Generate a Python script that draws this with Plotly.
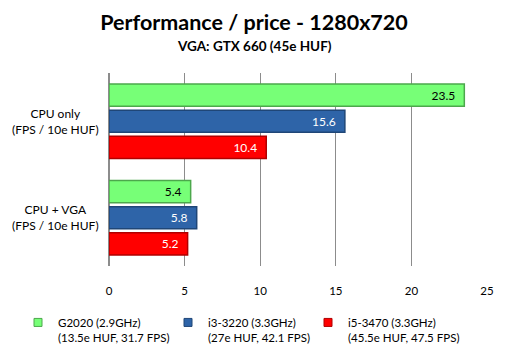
import plotly.graph_objects as go

categories = ["CPU only<br>(FPS / 10e HUF)", "CPU + VGA<br>(FPS / 10e HUF)"]
series_names = [
    "G2020 (2.9GHz)<br>(13.5e HUF, 31.7 FPS)",
    "i3-3220 (3.3GHz)<br>(27e HUF, 42.1 FPS)",
    "i5-3470 (3.3GHz)<br>(45.5e HUF, 47.5 FPS)",
]
g2020 = [23.5, 5.4]
i3_3220 = [15.6, 5.8]
i5_3470 = [10.4, 5.2]
tick_vals = [0, 5, 10, 15, 20, 25]

FONT = "Lato"
fills = ["#77FF77", "#2E64A8", "#FF0000"]
edges = ["#4CA84C", "#1F4677", "#B00000"]
text_colors = ["#000000", "#FFFFFF", "#FFFFFF"]

W, H = 508, 355
ML, MR, MT, MB = 109, 21, 73, 89
PW, PH = W - ML - MR, H - MT - MB

legend_ids = ["legend", "legend2", "legend3"]
legend_text_x = [58, 208, 348]   # pixel where each legend text starts

fig = go.Figure()
for name, vals, fc, ec, tc in zip(series_names, [g2020, i3_3220, i5_3470], fills, edges, text_colors):
    fig.add_trace(go.Bar(
        y=categories, x=vals, name=name, orientation="h", showlegend=False,
        marker=dict(color=fc, line=dict(color=ec, width=1.5)),
        text=[f"{v:.1f}\u00a0\u00a0" for v in vals], textposition="inside",
        insidetextanchor="end", textangle=0,
        textfont=dict(family=FONT, size=12, color=tc),
    ))
# legend entries with small square swatches, each in its own legend box
for name, fc, ec, lid in zip(series_names, fills, edges, legend_ids):
    fig.add_trace(go.Scatter(
        x=[None], y=[None], mode="markers", name=name, legend=lid,
        marker=dict(symbol="square", size=8, color=fc, line=dict(color=ec, width=1)),
    ))

annotations = [dict(
    text="<b>VGA: GTX 660 (45e HUF)</b>", x=(254 - ML) / PW, xref="paper", xanchor="center",
    y=1 + (MT - 46) / PH, yref="paper", yanchor="middle", showarrow=False,
    font=dict(family=FONT, size=13.5, color="black"),
)]
for c in categories:
    annotations.append(dict(
        text=c, x=(55 - ML) / PW, xref="paper", xanchor="center", align="center",
        y=c, yref="y", yanchor="middle", showarrow=False,
        font=dict(family=FONT, size=12, color="black"),
    ))

legends = {}
for lid, tx in zip(legend_ids, legend_text_x):
    legends[lid] = dict(
        orientation="h", x=(tx - 40 - ML) / PW, xanchor="left", y=-0.22, yanchor="top",
        font=dict(family=FONT, size=11.5, color="black"),
        valign="top", bgcolor="rgba(0,0,0,0)",
    )

fig.update_layout(
    width=W, height=H,
    paper_bgcolor="white", plot_bgcolor="white",
    margin=dict(l=ML, r=MR, t=MT, b=MB, autoexpand=False),
    barmode="group", bargap=0.19, bargroupgap=0.15,
    showlegend=True,
    title=dict(
        text="<b>Performance / price - 1280x720</b>",
        x=254 / W, xanchor="center", xref="container", y=1 - 22 / H, yanchor="middle", yref="container",
        font=dict(family=FONT, size=21.5, color="black"),
    ),
    annotations=annotations,
    xaxis=dict(
        range=[0, 25], tickvals=tick_vals, showgrid=True, automargin=False,
        gridcolor="#8C8C8C", gridwidth=1, zeroline=True, zerolinecolor="#8C8C8C",
        showline=False, ticks="outside", ticklen=14, tickcolor="rgba(0,0,0,0)",
        tickfont=dict(family=FONT, size=11.5, color="black"),
    ),
    yaxis=dict(
        autorange="reversed", showgrid=False, showline=False, automargin=False,
        showticklabels=False,
    ),
    **legends,
)

fig.write_html("out.html", config={"displayModeBar": False},
               post_script="document.body.style.margin='0px';")
